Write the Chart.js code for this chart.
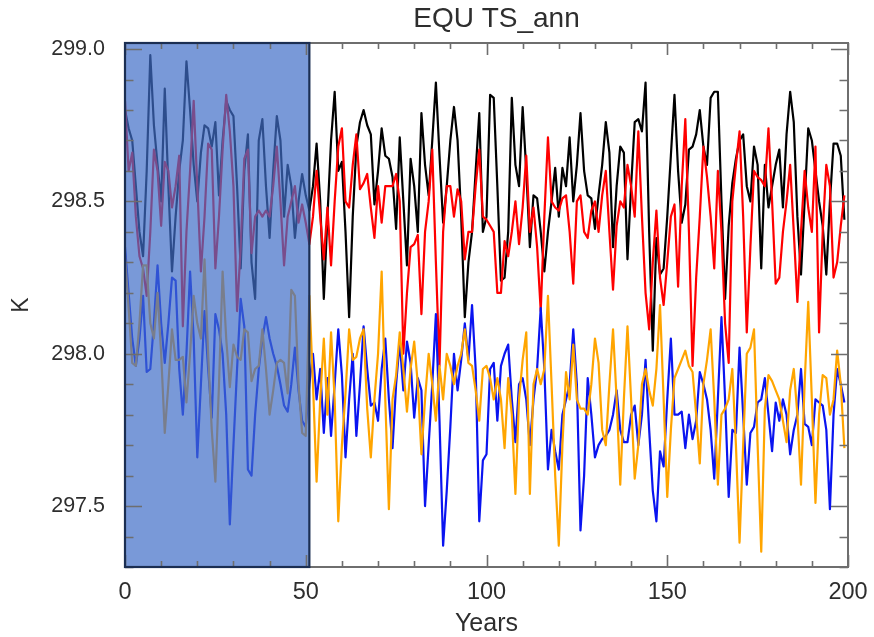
<!DOCTYPE html>
<html>
<head>
<meta charset="utf-8">
<script src="https://cdn.jsdelivr.net/npm/chart.js@4.4.1/dist/chart.umd.min.js"></script>
<style>
  html, body { margin: 0; padding: 0; background: #ffffff; }
  #wrap { width: 874px; height: 637px; }
</style>
</head>
<body>
<div id="wrap"><canvas id="c" width="874" height="637"></canvas></div>
<script>
// Annual-mean equatorial surface temperature (K), model years 0-199
const years = Array.from({ length: 200 }, (_, i) => i);

const tsBlack = [
298.80,298.74,298.70,298.55,298.40,298.32,298.60,298.98,298.75,298.62,
298.50,298.87,298.55,298.27,298.45,298.60,298.70,298.96,298.80,298.62,
298.50,298.66,298.75,298.74,298.68,298.76,298.52,298.70,298.83,298.80,
298.78,298.55,298.28,298.60,298.72,298.30,298.18,298.70,298.77,298.55,
298.38,298.60,298.78,298.70,298.45,298.62,298.55,298.38,298.50,298.59,
298.52,298.47,298.55,298.69,298.50,298.18,298.45,298.70,298.86,298.60,
298.63,298.40,298.12,298.45,298.68,298.76,298.80,298.75,298.72,298.49,
298.60,298.74,298.65,298.64,298.58,298.41,298.71,298.50,298.29,298.64,
298.55,298.40,298.79,298.62,298.52,298.70,298.89,298.65,298.43,298.55,
298.70,298.81,298.70,298.45,298.12,298.30,298.40,298.60,298.79,298.40,
298.45,298.85,298.84,298.55,298.24,298.25,298.40,298.84,298.62,298.55,
298.81,298.60,298.35,298.52,298.51,298.40,298.27,298.40,298.50,298.61,
298.45,298.61,298.55,298.71,298.50,298.62,298.79,298.60,298.52,298.51,
298.41,298.52,298.62,298.76,298.66,298.35,298.55,298.68,298.66,298.31,
298.55,298.76,298.77,298.73,298.89,298.40,298.01,298.38,298.26,298.28,
298.45,298.65,298.85,298.60,298.43,298.49,298.67,298.68,298.72,298.80,
298.68,298.62,298.84,298.86,298.86,298.50,298.18,298.42,298.56,298.64,
298.70,298.72,298.55,298.50,298.68,298.62,298.28,298.62,298.48,298.55,
298.62,298.67,298.48,298.72,298.86,298.76,298.45,298.26,298.50,298.74,
298.70,298.60,298.50,298.42,298.26,298.50,298.69,298.69,298.65,298.44
];

const tsRed = [
298.83,298.60,298.66,298.45,298.32,298.28,298.19,298.40,298.67,298.60,
298.42,298.63,298.60,298.48,298.55,298.65,298.09,298.40,298.60,298.83,
298.55,298.27,298.45,298.69,298.67,298.28,298.45,298.67,298.85,298.73,
298.55,298.14,298.35,298.64,298.67,298.33,298.45,298.47,298.45,298.47,
298.45,298.55,298.68,298.50,298.29,298.45,298.50,298.55,298.43,298.49,
298.43,298.36,298.45,298.60,298.45,298.31,298.48,298.29,298.50,298.68,
298.74,298.50,298.48,298.62,298.72,298.54,298.56,298.59,298.48,298.38,
298.55,298.43,298.55,298.55,298.55,298.59,298.50,298.00,298.20,298.35,
298.36,298.39,298.13,298.40,298.50,298.67,298.30,297.96,298.40,298.55,
298.55,298.45,298.54,298.50,298.31,298.40,298.40,298.55,298.67,298.45,
298.44,298.42,298.40,298.20,298.20,298.37,298.32,298.40,298.50,298.36,
298.48,298.65,298.40,298.48,298.35,298.14,298.45,298.71,298.50,298.48,
298.47,298.51,298.52,298.40,298.23,298.50,298.52,298.40,298.38,298.47,
298.50,298.40,298.52,298.60,298.40,298.21,298.42,298.50,298.48,298.62,
298.55,298.45,298.73,298.45,298.20,298.08,298.30,298.47,298.25,298.16,
298.30,298.45,298.49,298.22,298.55,298.77,298.40,297.96,298.25,298.45,
298.68,298.58,298.45,298.28,298.60,298.40,298.10,297.97,298.50,298.62,
298.73,298.45,298.07,298.35,298.60,298.58,298.57,298.55,298.74,298.50,
298.23,298.25,298.40,298.50,298.62,298.40,298.17,298.40,298.60,298.48,
298.40,298.68,298.07,298.40,298.62,298.55,298.25,298.30,298.42,298.52
];

const tsBlue = [
298.35,298.20,298.05,297.96,298.05,298.19,297.94,297.95,298.10,298.29,
298.10,297.97,298.10,298.25,298.24,297.95,297.80,298.00,298.27,298.05,
297.66,297.90,298.14,297.95,297.79,298.13,298.08,298.00,297.80,297.44,
297.70,297.95,298.18,298.09,297.62,297.60,297.80,297.95,298.05,298.12,
298.05,298.00,297.96,297.90,297.83,297.81,297.90,298.02,297.88,297.78,
297.76,297.90,298.00,297.85,297.95,297.74,297.92,297.73,297.90,298.08,
297.93,297.66,297.85,298.00,297.73,297.90,298.09,297.95,297.83,297.84,
297.78,297.95,298.05,297.85,297.69,297.90,298.04,297.88,298.04,297.97,
297.79,297.92,297.88,297.50,297.70,297.90,298.13,297.78,297.37,297.55,
297.76,298.00,297.88,297.98,298.10,297.98,298.16,297.95,297.45,297.65,
297.67,297.95,297.97,297.78,297.96,298.00,298.03,297.85,297.71,297.90,
297.92,297.85,297.70,297.85,297.95,298.15,297.95,297.62,297.75,297.68,
297.62,297.80,297.85,297.90,298.08,297.90,297.42,297.60,297.92,297.80,
297.66,297.70,297.72,297.73,297.75,297.80,297.88,297.75,297.71,297.71,
297.80,297.83,297.70,297.80,297.98,297.75,297.55,297.45,297.68,297.63,
297.85,298.05,297.80,297.80,297.81,297.69,297.80,297.72,297.78,297.94,
297.90,297.85,297.75,297.59,297.85,298.12,297.85,297.53,297.75,297.74,
298.02,297.80,297.57,297.74,297.76,297.84,297.85,297.92,297.80,297.68,
297.84,297.78,297.85,297.80,297.67,297.75,297.80,297.95,297.77,297.76,
297.70,297.85,297.84,297.83,297.75,297.49,297.80,297.95,297.90,297.84
];

const tsOrange = [
298.32,298.15,297.97,297.96,298.10,298.29,298.29,298.10,298.05,298.20,
298.00,297.74,297.90,298.08,297.98,297.98,297.99,297.84,298.00,298.19,
298.10,298.05,298.31,298.00,297.75,297.58,297.90,298.27,298.05,297.89,
298.03,297.99,297.98,298.08,298.07,297.91,297.95,297.96,298.08,297.95,
297.80,297.88,297.97,297.98,297.97,297.87,298.21,298.19,297.90,297.74,
297.73,298.19,297.90,297.58,297.85,298.05,297.80,298.07,297.85,297.45,
297.70,297.87,298.08,297.98,297.99,298.05,298.08,297.82,297.66,297.85,
298.00,298.27,297.85,297.49,297.85,297.93,298.07,297.95,297.81,297.95,
298.04,297.90,297.67,297.85,298.00,297.90,297.78,297.96,297.85,298.00,
297.96,297.90,297.96,298.00,298.08,297.97,297.96,297.88,297.78,297.95,
297.96,297.92,297.85,297.92,297.85,297.69,297.92,297.80,297.54,297.85,
297.98,298.07,297.54,297.90,297.95,297.90,297.95,298.19,297.90,297.60,
297.37,297.70,297.94,297.85,298.03,297.85,297.82,297.82,297.80,297.90,
298.05,297.97,297.75,297.70,297.90,298.08,297.85,297.57,297.85,298.09,
297.85,297.59,297.70,297.90,297.95,297.88,297.83,297.95,298.16,297.85,
297.53,297.75,297.92,297.95,297.98,298.01,297.96,297.94,297.80,297.64,
297.90,297.98,298.08,297.85,297.57,297.80,297.82,297.85,297.95,297.70,
297.38,297.70,298.00,298.02,298.08,297.70,297.35,297.82,297.93,297.91,
297.88,297.85,297.78,297.71,297.88,297.95,297.80,297.57,297.90,298.17,
297.85,297.51,297.80,297.93,297.92,297.80,297.85,298.01,297.90,297.69
];

// Axis ticks: labelled majors and unlabelled minors
const xMajorTicks = [0, 50, 100, 150, 200];
const xMinorStep = 10;
const yMajorTicks = [297.5, 298.0, 298.5, 299.0];
const yMinorStep = 0.1;
// Spin-up period highlighted by the shaded box (years)
const spinUpYears = [0, 51];

const xRange = [0, 200];
const yRange = [297.3, 299.02];

const FRAME = '#6e6e6e';
const TEXT = '#2e2e2e';
const FONT = "'Liberation Sans', Arial, sans-serif";
const BOX_EDGE = '#1b2e52';

// Shaded spin-up box, drawn over the series
const spinUpBox = {
  id: 'spinUpBox',
  afterLayout(chart) {
    // nudge the title a little right of the plot centre
    const t = chart.titleBlock;
    if (t) { t.left += 10; t.right += 10; }
  },
  afterDatasetsDraw(chart) {
    const { ctx, chartArea, scales } = chart;
    const x0 = scales.x.getPixelForValue(spinUpYears[0]);
    const x1 = scales.x.getPixelForValue(spinUpYears[1]);
    ctx.save();
    ctx.fillStyle = 'rgba(64,110,200,0.70)';
    ctx.fillRect(x0, chartArea.top, x1 - x0, chartArea.bottom - chartArea.top);
    ctx.restore();
  }
};

// Box frame with inward-pointing ticks on all four sides
const frameTicks = {
  id: 'frameTicks',
  afterDraw(chart) {
    const { ctx, chartArea: a, scales } = chart;
    const xs = scales.x, ys = scales.y;
    ctx.save();
    ctx.strokeStyle = FRAME;
    ctx.lineWidth = 1.6;
    ctx.beginPath();
    const xMaj = 12, xMin = 6, yMaj = 17, yMin = 8.5;
    for (let v = xRange[0]; v <= xRange[1] + 1e-9; v += xMinorStep) {
      const px = Math.round(xs.getPixelForValue(v)) + 0.5;
      const len = xMajorTicks.includes(v) ? xMaj : xMin;
      ctx.moveTo(px, a.bottom); ctx.lineTo(px, a.bottom - len);
      ctx.moveTo(px, a.top); ctx.lineTo(px, a.top + len);
    }
    const start = Math.ceil(yRange[0] / yMinorStep - 1e-6);
    const end = Math.floor(yRange[1] / yMinorStep + 1e-6);
    for (let k = start; k <= end; k++) {
      const v = +(k * yMinorStep).toFixed(1);
      const py = Math.round(ys.getPixelForValue(v)) + 0.5;
      const len = yMajorTicks.some(t => Math.abs(t - v) < 1e-6) ? yMaj : yMin;
      ctx.moveTo(a.left, py); ctx.lineTo(a.left + len, py);
      ctx.moveTo(a.right, py); ctx.lineTo(a.right - len, py);
    }
    ctx.stroke();
    ctx.lineWidth = 2;
    ctx.strokeRect(a.left, a.top, a.right - a.left, a.bottom - a.top);
    // outline of the spin-up box; its left edge sits on the axis
    const x0 = xs.getPixelForValue(spinUpYears[0]);
    const x1 = xs.getPixelForValue(spinUpYears[1]);
    ctx.strokeStyle = BOX_EDGE;
    ctx.lineWidth = 2.2;
    ctx.strokeRect(x0, a.top, x1 - x0, a.bottom - a.top);
    ctx.restore();
  }
};

const line = (data, color) => ({
  data, borderColor: color, borderWidth: 2.2, pointRadius: 0,
  tension: 0, fill: false, borderJoinStyle: 'round'
});

new Chart(document.getElementById('c'), {
  type: 'line',
  data: {
    labels: years,
    datasets: [
      line(tsOrange, '#ffa500'),
      line(tsBlue, '#0a14f0'),
      line(tsRed, '#ff0000'),
      line(tsBlack, '#000000')
    ]
  },
  options: {
    responsive: false,
    animation: false,
    devicePixelRatio: 1,
    layout: { padding: { left: 0, right: 26, top: 0, bottom: 0 } },
    plugins: {
      legend: { display: false },
      tooltip: { enabled: false },
      title: {
        display: true,
        fullSize: false,
        text: 'EQU TS_ann',
        color: TEXT,
        font: { family: FONT, size: 28, weight: 'normal', lineHeight: 1.2 },
        padding: { top: 2.5, bottom: 6.9 }
      }
    },
    scales: {
      x: {
        type: 'linear',
        min: xRange[0], max: xRange[1],
        afterBuildTicks: s => { s.ticks = xMajorTicks.map(v => ({ value: v })); },
        afterFit: s => { s.height = 70; s.paddingLeft = 0; s.paddingRight = 0; },
        grid: { display: false, drawTicks: false },
        border: { display: false },
        ticks: {
          color: TEXT, padding: 11,
          font: { family: FONT, size: 23.5 },
          maxRotation: 0,
          callback: v => String(v)
        },
        title: {
          display: true, text: 'Years', color: TEXT,
          font: { family: FONT, size: 25, lineHeight: 1.0 },
          padding: { top: 0, bottom: 0 }
        }
      },
      y: {
        min: yRange[0], max: yRange[1],
        afterBuildTicks: s => { s.ticks = yMajorTicks.map(v => ({ value: v })); },
        afterFit: s => { s.width = 125; s.paddingTop = 0; s.paddingBottom = 0; },
        grid: { display: false, drawTicks: false },
        border: { display: false },
        ticks: {
          color: TEXT, padding: 20,
          font: { family: FONT, size: 21.5 },
          callback: v => Number(v).toFixed(1)
        },
        title: {
          display: true, text: 'K', color: TEXT,
          font: { family: FONT, size: 23, lineHeight: 1.0 },
          padding: { top: 10, bottom: 0 }
        }
      }
    }
  },
  plugins: [spinUpBox, frameTicks]
});
</script>
</body>
</html>
